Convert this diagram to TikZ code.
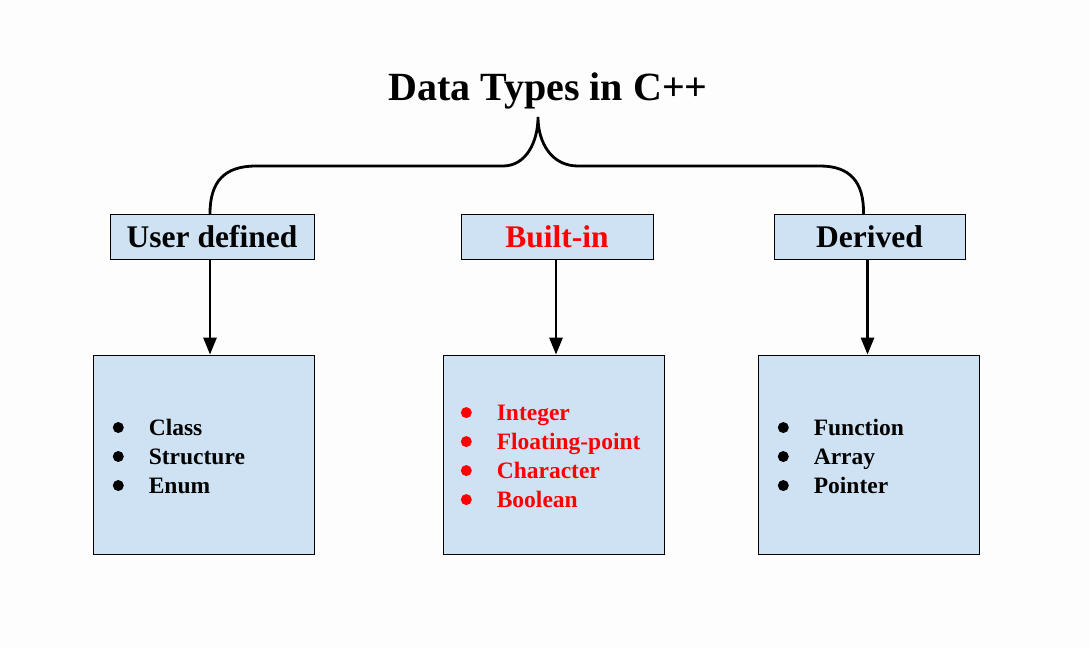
\documentclass[tikz,border=0pt]{standalone}
\usepackage{fontspec}
\setmainfont{Liberation Serif}
\usetikzlibrary{arrows.meta,positioning}
\definecolor{boxblue}{HTML}{CFE2F3}
\definecolor{pagebg}{HTML}{FDFDFD}
\definecolor{hotred}{HTML}{FF0000}
\newcommand{\itemdot}[1][black]{\makebox[36pt][l]{\tikz[baseline=-8pt]\fill[#1] (0,0) circle (5.5pt);}}

\begin{document}
\begin{tikzpicture}[x=1pt,y=-1pt]
\tikzstyle{cat}=[draw,fill=boxblue,line width=0.8pt,minimum height=45pt,inner sep=0pt,font=\fontsize{31.5}{34}\selectfont\bfseries]
\tikzstyle{kind}=[draw,fill=boxblue,line width=0.8pt,minimum width=221pt,minimum height=199pt,inner sep=0pt]
\tikzstyle{items}=[anchor=west,align=left,inner sep=0pt,font=\fontsize{23.5}{29}\selectfont\bfseries]
\tikzstyle{link}=[line width=2.8pt,-{Triangle[length=17pt,width=13pt]}]
\tikzstyle{brace}=[line width=2.8pt,line cap=round]

\fill[pagebg] (0,0) rectangle (1089,648);

\node[anchor=base,inner sep=0pt,font=\fontsize{40}{44}\selectfont\bfseries] (title) at (548,100) {Data Types in C++};
\coordinate (tip) at (538,117);

\node[cat,minimum width=204pt] (ud) at (212,236.5) {User defined};
\node[cat,minimum width=192pt,text=hotred] (bi) at (557,236.5) {Built-in};
\node[cat,minimum width=191pt] (dv) at (869.5,236.5) {Derived};

\node[kind] (udbox) at (203.5,454.5) {};
\node[kind] (bibox) at (553.5,454.5) {};
\node[kind] (dvbox) at (868.5,454.5) {};

\node[items] (udlist) at ([xshift=20pt,yshift=-2pt]udbox.west) {\itemdot Class\\\itemdot Structure\\\itemdot Enum};
\node[items,text=hotred] (bilist) at ([xshift=18pt,yshift=-2pt]bibox.west) {\itemdot[hotred]Integer\\\itemdot[hotred]Floating-point\\\itemdot[hotred]Character\\\itemdot[hotred]Boolean};
\node[items] (dvlist) at ([xshift=20pt,yshift=-2pt]dvbox.west) {\itemdot Function\\\itemdot Array\\\itemdot Pointer};

% brace from the title down to the three groups
\draw[brace] ([xshift=-2pt]ud.north) .. controls (210,182) and (224,166) .. (256,166) -- (503,166)
  .. controls (526,166) and (538,142) .. (tip)
  .. controls (538,142) and (551,166) .. (578,166) -- (820,166)
  .. controls (850,166) and (864,182) .. ([xshift=-6pt]dv.north);

\draw[link] ([xshift=-2pt]ud.south) -- ([xshift=-2pt]ud.south |- udbox.north);
\draw[link] ([xshift=-1pt]bi.south) -- ([xshift=-1pt]bi.south |- bibox.north);
\draw[link] ([xshift=-2pt]dv.south) -- ([xshift=-2pt]dv.south |- dvbox.north);
\end{tikzpicture}
\end{document}
